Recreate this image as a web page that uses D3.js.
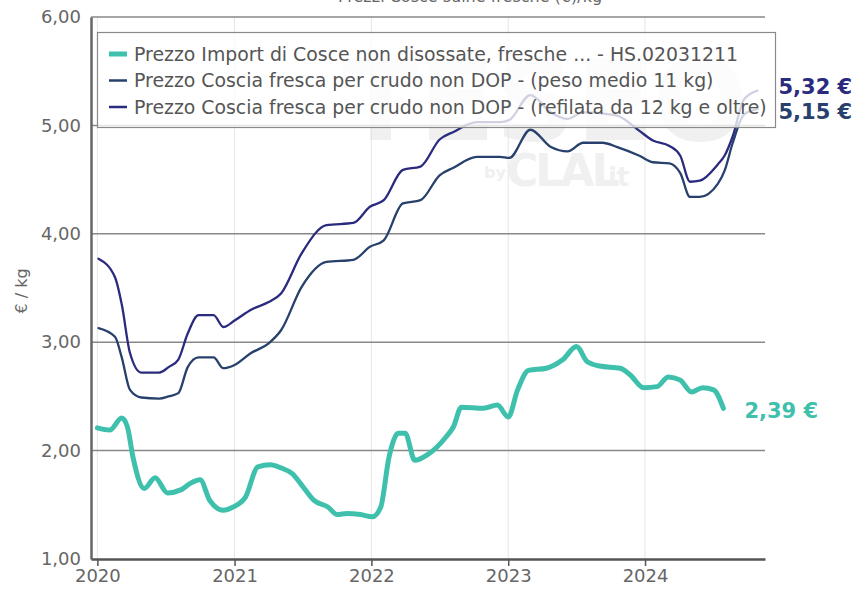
<!DOCTYPE html>
<html>
<head>
<meta charset="utf-8">
<script src="https://cdn.jsdelivr.net/npm/d3@7"></script>
<style>
  body { margin: 0; background: #fff; }
  svg { display: block; font-family: 'DejaVu Sans', Verdana, sans-serif; }
</style>
</head>
<body>
<div id="chart"></div>
<script>
// dates shared by the two "coscia fresca" series
const cosciaDates = [
  '2020-01-04', '2020-02-17', '2020-03-06', '2020-03-28', '2020-04-27', '2020-06-14',
  '2020-07-09', '2020-08-04', '2020-08-29', '2020-09-27', '2020-11-06', '2020-12-02',
  '2021-01-01', '2021-02-14', '2021-04-02', '2021-05-05', '2021-06-29', '2021-09-03',
  '2021-11-14', '2021-12-28', '2022-02-03', '2022-03-26', '2022-05-12', '2022-07-02',
  '2022-08-08', '2022-10-09', '2022-12-10', '2023-01-04', '2023-03-01', '2023-04-25',
  '2023-06-08', '2023-07-20', '2023-09-09', '2023-10-19', '2023-12-17', '2024-01-22',
  '2024-03-06', '2024-04-04', '2024-04-30', '2024-05-26', '2024-07-13', '2024-07-31',
  '2024-08-22', '2024-09-21', '2024-10-27'
];
const pesoMedio = [
  3.13, 3.05, 2.86, 2.56, 2.49, 2.48,
  2.50, 2.53, 2.77, 2.86, 2.86, 2.76,
  2.79, 2.90, 2.99, 3.11, 3.51, 3.74,
  3.76, 3.88, 3.94, 4.28, 4.31, 4.54,
  4.61, 4.71, 4.71, 4.70, 4.96, 4.80,
  4.76, 4.84, 4.84, 4.80, 4.72, 4.66,
  4.65, 4.56, 4.34, 4.34, 4.46, 4.58,
  4.84, 5.10, 5.15
];
const refilata = [
  3.77, 3.60, 3.35, 2.90, 2.72, 2.72,
  2.77, 2.84, 3.08, 3.25, 3.25, 3.14,
  3.20, 3.30, 3.37, 3.45, 3.82, 4.08,
  4.10, 4.25, 4.31, 4.59, 4.62, 4.87,
  4.94, 5.03, 5.03, 5.05, 5.28, 5.12,
  5.06, 5.12, 5.11, 5.09, 4.95, 4.86,
  4.81, 4.72, 4.48, 4.49, 4.64, 4.72,
  4.90, 5.24, 5.32
];

const importDates = [
  '2020-01-01', '2020-02-03', '2020-03-06', '2020-03-21', '2020-04-05', '2020-05-05',
  '2020-06-03', '2020-07-06', '2020-08-12', '2020-09-06', '2020-10-01', '2020-10-27',
  '2020-12-02', '2020-12-28', '2021-01-30', '2021-03-04', '2021-04-06', '2021-05-05',
  '2021-06-03', '2021-07-06', '2021-08-01', '2021-09-07', '2021-10-02', '2021-10-28',
  '2021-12-03', '2022-01-04', '2022-01-26', '2022-02-17', '2022-03-14', '2022-04-01',
  '2022-04-27', '2022-05-30', '2022-07-20', '2022-08-08', '2022-08-29', '2022-10-27',
  '2022-12-03', '2023-01-01', '2023-01-26', '2023-02-24', '2023-04-13', '2023-05-27',
  '2023-07-02', '2023-07-31', '2023-09-02', '2023-10-27', '2023-11-22', '2023-12-28',
  '2024-02-02', '2024-03-03', '2024-04-04', '2024-05-04', '2024-06-02', '2024-07-02',
  '2024-07-28'
];
const importCosce = [
  2.21, 2.19, 2.30, 2.22, 1.94, 1.65,
  1.75, 1.61, 1.64, 1.70, 1.73, 1.54,
  1.45, 1.48, 1.57, 1.85, 1.87, 1.84,
  1.79, 1.65, 1.54, 1.48, 1.41, 1.42,
  1.41, 1.39, 1.48, 1.94, 2.16, 2.16,
  1.91, 1.96, 2.13, 2.22, 2.40, 2.39,
  2.42, 2.31, 2.56, 2.74, 2.76, 2.84,
  2.96, 2.82, 2.78, 2.76, 2.70, 2.58,
  2.59, 2.68, 2.65, 2.54, 2.58, 2.56,
  2.39
];

const seriesNames = [
  'Prezzo Import di Cosce non disossate, fresche ... - HS.02031211',
  'Prezzo Coscia fresca per crudo non DOP - (peso medio 11 kg)',
  'Prezzo Coscia fresca per crudo non DOP - (refilata da 12 kg e oltre)'
];
const endLabels = ['2,39 €', '5,15 €', '5,32 €'];
const yTicks = [1, 2, 3, 4, 5, 6];
const xTickYears = [2020, 2021, 2022, 2023, 2024];

const W = 856, H = 592;
const parse = d3.timeParse('%Y-%m-%d');
const fmt = d3.format('.2f');
const FONT = "'DejaVu Sans', Verdana, sans-serif";

const svg = d3.select('#chart').append('svg')
  .attr('width', W)
  .attr('height', H);

const x = d3.scaleTime()
  .domain([parse('2019-12-15'), parse('2024-11-16')])
  .range([91, 765]);
const y = d3.scaleLinear()
  .domain([1, 6])
  .range([559, 17]);

const series = [
  { name: seriesNames[0], color: '#3fc0ad', width: 5, label: endLabels[0],
    pts: importDates.map((d, i) => ({ date: parse(d), value: importCosce[i] })) },
  { name: seriesNames[1], color: '#27406c', width: 2.3, label: endLabels[1],
    pts: cosciaDates.map((d, i) => ({ date: parse(d), value: pesoMedio[i] })) },
  { name: seriesNames[2], color: '#2a2a7e', width: 2.3, label: endLabels[2],
    pts: cosciaDates.map((d, i) => ({ date: parse(d), value: refilata[i] })) }
];

// partly hidden title at the top edge
svg.append('text')
  .attr('x', 470)
  .attr('y', 2)
  .attr('text-anchor', 'middle')
  .style('font-size', '16px')
  .style('fill', '#666')
  .text('Prezzi Cosce suine fresche (€)/kg');

// watermark
const wm = svg.append('g').style('fill', '#f0f0f0').style('font-weight', 'bold');
wm.append('text').attr('x', 545).attr('y', 140).attr('text-anchor', 'middle')
  .style('font-size', '112px').text('TESEO');
wm.append('text').attr('x', 484).attr('y', 178)
  .style('font-size', '16px').text('by');
wm.append('text').attr('x', 506).attr('y', 186)
  .style('font-size', '44px').style('letter-spacing', '-3px').text('CLAL');
wm.append('text').attr('x', 598).attr('y', 186)
  .style('font-size', '26px').text('.it');

// vertical year grid
svg.append('g')
  .selectAll('line')
  .data(xTickYears)
  .enter()
  .append('line')
  .attr('x1', d => x(new Date(d, 0, 1)))
  .attr('x2', d => x(new Date(d, 0, 1)))
  .attr('y1', y(6))
  .attr('y2', y(1))
  .style('stroke', '#e6e6e6')
  .style('stroke-width', 1);

// horizontal grid
svg.append('g')
  .selectAll('line')
  .data(yTicks.filter(d => d > 1))
  .enter()
  .append('line')
  .attr('x1', x.range()[0])
  .attr('x2', x.range()[1])
  .attr('y1', d => y(d))
  .attr('y2', d => y(d))
  .style('stroke', '#888')
  .style('stroke-width', 1.5);

// y axis
const yAxis = svg.append('g')
  .attr('transform', `translate(${x.range()[0]},0)`)
  .call(d3.axisLeft(y).tickValues(yTicks).tickSize(0).tickPadding(10)
    .tickFormat(d => fmt(d).replace('.', ',')));
yAxis.select('.domain').style('stroke', '#666').style('stroke-width', 2.5);
yAxis.selectAll('text')
  .style('font-size', '18px')
  .style('fill', '#666')
  .style('font-family', FONT);

// x axis
const xAxis = svg.append('g')
  .attr('transform', `translate(0,${y(1)})`)
  .call(d3.axisBottom(x).tickValues(xTickYears.map(d => new Date(d, 0, 1)))
    .tickSize(7).tickSizeOuter(0).tickPadding(3)
    .tickFormat(d3.timeFormat('%Y')));
xAxis.select('.domain').style('stroke', '#555').style('stroke-width', 2.5);
xAxis.selectAll('.tick line').style('stroke', '#555').style('stroke-width', 1.5);
xAxis.selectAll('text')
  .style('font-size', '18px')
  .style('fill', '#666')
  .style('font-family', FONT);

// y label
svg.append('text')
  .attr('transform', 'translate(27,291) rotate(-90)')
  .attr('text-anchor', 'middle')
  .style('font-size', '16px')
  .style('fill', '#666')
  .text('€ / kg');

// lines
const line = d3.line()
  .x(d => x(d.date))
  .y(d => y(d.value))
  .curve(d3.curveMonotoneX);

svg.append('g')
  .selectAll('path')
  .data(series)
  .enter()
  .append('path')
  .attr('d', d => line(d.pts))
  .style('fill', 'none')
  .style('stroke', d => d.color)
  .style('stroke-width', d => d.width)
  .style('stroke-linejoin', 'round')
  .style('stroke-linecap', 'round');

// end labels
svg.append('g')
  .selectAll('text')
  .data(series)
  .enter()
  .append('text')
  .attr('x', d => x(d.pts[d.pts.length - 1].date) + 21)
  .attr('y', (d, i) => y(d.pts[d.pts.length - 1].value) + (i === 1 ? 3 : i === 2 ? -4 : 2))
  .attr('dy', '0.35em')
  .style('font-size', '21px')
  .style('font-weight', 'bold')
  .style('fill', d => d.color)
  .text(d => d.label);

// legend
const legend = svg.append('g');
legend.append('rect')
  .attr('x', 97.5)
  .attr('y', 32.5)
  .attr('width', 678)
  .attr('height', 95)
  .style('fill', '#fff')
  .style('fill-opacity', 0.78)
  .style('stroke', '#8a8a8a')
  .style('stroke-width', 1.2);

const item = legend.selectAll('g')
  .data(series)
  .enter()
  .append('g')
  .attr('transform', (d, i) => `translate(0,${54 + i * 26.5})`);
item.append('line')
  .attr('x1', 109)
  .attr('x2', 127)
  .style('stroke', d => d.color)
  .style('stroke-width', (d, i) => i === 0 ? 5 : 2.5);
const legText = item.append('text')
  .attr('x', 134)
  .attr('dy', '0.35em')
  .style('font-size', '18px')
  .style('fill', '#555')
  .text(d => d.name);

// fit the legend font so the first entry spans like the reference (134 -> 738)
const w0 = legText.node().getComputedTextLength();
legText.style('font-size', (18 * 604 / w0).toFixed(2) + 'px');
</script>
</body>
</html>
